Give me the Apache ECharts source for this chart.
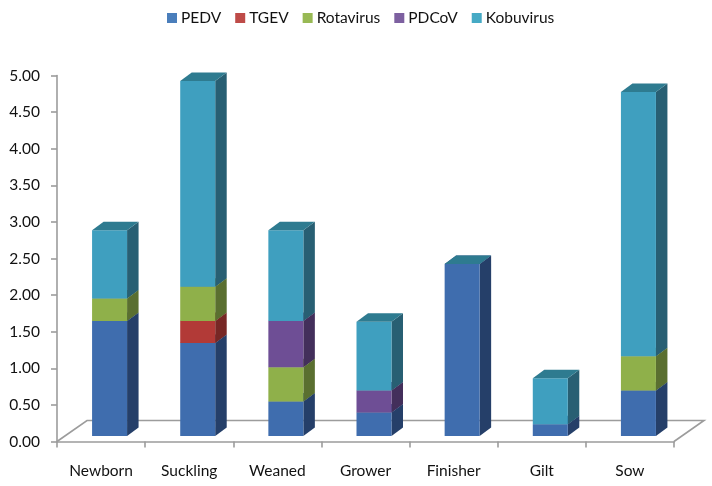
<!DOCTYPE html>
<html><head><meta charset="utf-8">
<style>html,body{margin:0;padding:0;background:#fff}#c{width:712px;height:486px}</style>
<script src="https://cdn.jsdelivr.net/npm/echarts@6/dist/echarts.min.js"></script>
</head><body><div id="c"></div>
<script>
const categories = ['Newborn','Suckling','Weaned','Grower','Finisher','Gilt','Sow'];
const PEDV      = [1.57,1.27,0.47,0.32,2.35,0.16,0.62];
const TGEV      = [0,0.30,0,0,0,0,0];
const Rotavirus = [0.31,0.47,0.47,0,0,0,0.47];
const PDCoV     = [0,0,0.63,0.30,0,0,0];
const Kobuvirus = [0.93,2.81,1.24,0.94,0,0.63,3.61];
const seriesNames = ['PEDV','TGEV','Rotavirus','PDCoV','Kobuvirus'];
const seriesValues = [PEDV,TGEV,Rotavirus,PDCoV,Kobuvirus];
const frontColors = ['#3F6DAE','#B23A37','#8FB04A','#6E4E95','#3F9FBF'];
const sideColors  = ['#253F69','#772725','#5A6F30','#432F5B','#285F73'];
const topColors   = ['#2F5488','#8A2D2B','#6E883A','#553C73','#2E7B90'];
const legendColors= ['#4A7EBB','#BE4B48','#98B954','#7D60A0','#46AAC5'];

const DX = 11.5, DY = -8.5;      // oblique depth of a bar
const BAR_W = 35, BAR_SHIFT = 8.5, BAR_LIFT = 5.5;
const FLOOR_DX = 30, FLOOR_DY = -21;
const AXIS = '#9C9C9C';
const LAST = seriesNames.length - 1;

function barRender(si){
  return function(params, api){
    const i = api.value(0);
    const p0 = api.coord([i, api.value(1)]);
    const p1 = api.coord([i, api.value(2)]);
    const x0 = p0[0] + BAR_SHIFT - BAR_W/2, x1 = x0 + BAR_W;
    const yb = p0[1] - BAR_LIFT, yt = p1[1] - BAR_LIFT;
    const children = [];
    if (yb - yt > 0.01) {
      children.push({type:'polygon',shape:{points:[[x1,yb],[x1+DX,yb+DY],[x1+DX,yt+DY],[x1,yt]]},style:{fill:sideColors[si]}});
      children.push({type:'rect',shape:{x:x0,y:yt,width:BAR_W,height:yb-yt},style:{fill:frontColors[si]}});
    }
    if (yb - yt > 0.01 || si === LAST) {
      children.push({type:'polygon',shape:{points:[[x0,yt],[x0+DX,yt+DY],[x1+DX,yt+DY],[x1,yt]]},style:{fill:topColors[si]}});
    }
    return {type:'group',children};
  };
}
function stackedData(si){
  return categories.map((c,i)=>{
    let base=0; for(let k=0;k<si;k++) base+=seriesValues[k][i];
    return [i,base,base+seriesValues[si][i]];
  });
}
const floorSeries = {
  type:'custom', coordinateSystem:'cartesian2d', silent:true, z:1, name:'floor',
  data:[[0]],
  renderItem(params, api){
    const cs = params.coordSys;
    const xl = cs.x, xr = cs.x+cs.width, y0 = cs.y+cs.height;
    const pts = [[xl,y0],[xl+FLOOR_DX,y0+FLOOR_DY],[xr+FLOOR_DX,y0+FLOOR_DY],[xr,y0]];
    return {type:'polyline',shape:{points:pts},style:{stroke:AXIS,lineWidth:1.6,fill:null}};
  }
};
const option = {
  animation:false,
  backgroundColor:'#fff',
  textStyle:{fontFamily:'Lato'},
  legend:{
    top:5,left:162,icon:'rect',itemWidth:10,itemHeight:10,itemGap:14,
    data:seriesNames,
    textStyle:{fontFamily:'Lato',fontSize:15.5,color:'#111',padding:[0,0,0,-1]}
  },
  color:legendColors,
  grid:{left:57,top:75.5,width:617,height:366,containLabel:false},
  xAxis:{type:'category',data:categories,
    axisLine:{lineStyle:{color:AXIS,width:1.6}},
    axisTick:{show:true,length:6,lineStyle:{color:AXIS,width:1.6}},
    axisLabel:{fontFamily:'Lato',fontSize:15.5,color:'#111',margin:21,interval:0},
    splitLine:{show:false}},
  yAxis:{type:'value',min:0,max:5,interval:0.5,
    axisLine:{show:true,lineStyle:{color:AXIS,width:1.6}},
    axisTick:{show:true,length:6,lineStyle:{color:AXIS,width:1.6}},
    axisLabel:{fontFamily:'Lato',fontSize:15.5,color:'#111',margin:17,formatter:v=>v.toFixed(2)},
    splitLine:{show:false}},
  series:[floorSeries].concat(seriesNames.map((n,si)=>({
    type:'custom',name:n,coordinateSystem:'cartesian2d',z:2+si,
    itemStyle:{color:legendColors[si]},
    encode:{x:0,y:[1,2]},
    data:stackedData(si),
    renderItem:barRender(si)
  })))
};
echarts.init(document.getElementById('c'),null,{renderer:'canvas'}).setOption(option);
</script></body></html>
